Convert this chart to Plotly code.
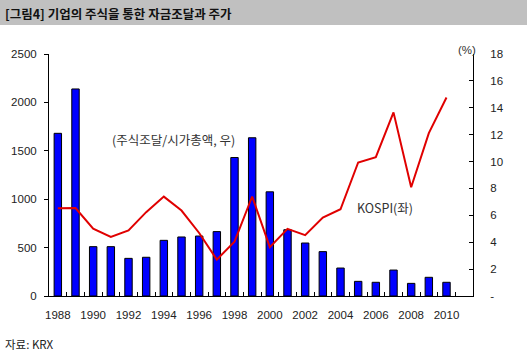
import plotly.graph_objects as go

years = [str(y) for y in range(1988, 2012)]
data_years = [str(y) for y in range(1988, 2011)]
# 주식조달/시가총액 (%), right axis
equity_ratio = [12.1, 15.4, 3.67, 3.67, 2.8, 2.88, 4.14, 4.39, 4.46, 4.79,
                10.3, 11.77, 7.75, 4.93, 3.94, 3.3, 2.08, 1.09, 1.02, 1.93,
                0.94, 1.39, 1.02]
# KOSPI, left axis
kospi = [907, 909, 696, 611, 678, 866, 1027, 883, 651, 376,
         562, 1028, 505, 694, 628, 811, 896, 1379, 1434, 1897,
         1124, 1683, 2051]

x_ticktext = [y if (int(y) - 1988) % 2 == 0 and int(y) <= 2010 else "" for y in years]
left_ticks = [0, 500, 1000, 1500, 2000, 2500]
right_ticks = [0, 2, 4, 6, 8, 10, 12, 14, 16, 18]
right_ticktext = ["-"] + [str(v) for v in right_ticks[1:]]

font_fam = "Liberation Sans, Arial, Noto Sans CJK KR, sans-serif"
kfont = "Noto Sans CJK KR, Liberation Sans, sans-serif"

fig = go.Figure()
fig.add_trace(go.Bar(x=data_years, y=equity_ratio, yaxis="y",
                     marker=dict(color="#0000FF", line=dict(color="#000000", width=1)),
                     width=0.42))
fig.add_trace(go.Scatter(x=data_years, y=kospi, yaxis="y2", mode="lines",
                         line=dict(color="#E00000", width=2)))

L, R, T, B = 49, 54, 54, 57
W, H = 527, 353
pw, ph = W - L - R, H - T - B

def px_x(px):
    return (px - L) / pw

def px_y(py):
    return (H - B - py) / ph

fig.update_layout(
    width=W, height=H,
    margin=dict(l=L, r=R, t=T, b=B),
    paper_bgcolor="white", plot_bgcolor="white",
    showlegend=False,
    font=dict(family=font_fam, size=11, color="#222"),
    xaxis=dict(type="category", categoryorder="array", categoryarray=years,
               range=[-0.5, 23.5],
               tickvals=years, ticktext=x_ticktext, tickson="boundaries",
               tickangle=0,
               ticks="inside", ticklen=4, tickcolor="black",
               showline=True, linecolor="black", linewidth=1,
               showgrid=False, zeroline=False, ticklabelstandoff=8,
               tickfont=dict(size=11.5, family=font_fam, color="#222")),
    yaxis=dict(side="right", range=[0, 18], tickvals=right_ticks, ticktext=right_ticktext,
               ticks="inside", ticklen=4, tickcolor="black",
               showline=True, linecolor="black", linewidth=1,
               showgrid=False, zeroline=False, ticklabelstandoff=14,
               tickfont=dict(size=11.5, family=font_fam, color="#222")),
    yaxis2=dict(side="left", overlaying="y", range=[0, 2500], tickvals=left_ticks,
                ticks="outside", ticklen=4, tickcolor="black",
                showline=True, linecolor="black", linewidth=1,
                showgrid=False, zeroline=False, ticklabelstandoff=5,
                tickfont=dict(size=11.5, family=font_fam, color="#222")),
    shapes=[dict(type="rect", xref="paper", yref="paper",
                 x0=px_x(0), x1=px_x(W), y0=px_y(25), y1=px_y(0),
                 fillcolor="#C0C0C0", line=dict(width=0), layer="below")],
    annotations=[
        dict(text="<b>[그림4] 기업의 주식을 통한 자금조달과 주가</b>", xref="paper", yref="paper",
             x=px_x(3), y=px_y(13), xanchor="left", yanchor="middle", showarrow=False,
             font=dict(family=kfont, size=12.5, color="#111")),
        dict(text="(주식조달/시가총액, 우)", xref="paper", yref="paper",
             x=px_x(173), y=px_y(139), xanchor="center", yanchor="middle", showarrow=False,
             font=dict(family=kfont, size=12.5, color="#333")),
        dict(text="KOSPI(좌)", xref="paper", yref="paper",
             x=px_x(385), y=px_y(207), xanchor="center", yanchor="middle", showarrow=False,
             font=dict(family=kfont, size=12.5, color="#333")),
        dict(text="(%)", xref="paper", yref="paper",
             x=px_x(467), y=px_y(50), xanchor="center", yanchor="middle", showarrow=False,
             font=dict(family=font_fam, size=11.5, color="#333")),
        dict(text="자료: KRX", xref="paper", yref="paper",
             x=px_x(3), y=px_y(344), xanchor="left", yanchor="middle", showarrow=False,
             font=dict(family=kfont, size=11.5, color="#222")),
    ],
)

fig.write_html("out.html")
